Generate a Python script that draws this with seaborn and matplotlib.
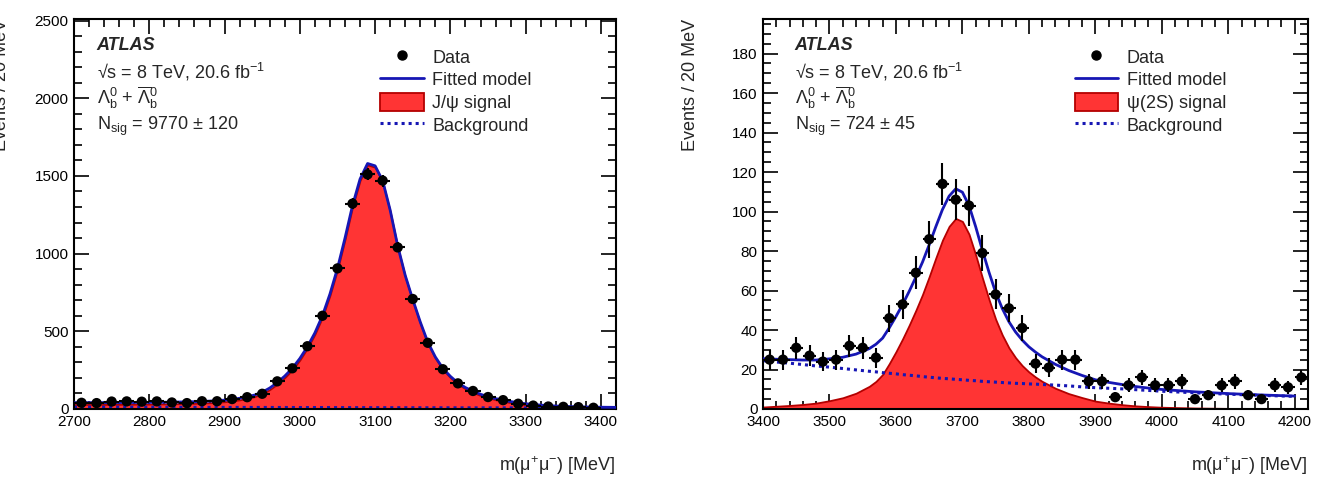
import numpy as np
import pandas as pd
import matplotlib
matplotlib.use("Agg")
import matplotlib.pyplot as plt
import seaborn as sns
from matplotlib.ticker import MultipleLocator
from matplotlib.lines import Line2D
from matplotlib.patches import Patch

# ---------------- data: J/psi panel ----------------
jpsi_mass = [2710, 2730, 2750, 2770, 2790, 2810, 2830, 2850, 2870, 2890,
             2910, 2930, 2950, 2970, 2990, 3010, 3030, 3050, 3070, 3090,
             3110, 3130, 3150, 3170, 3190, 3210, 3230, 3250, 3270, 3290,
             3310, 3330, 3350, 3370, 3390]
jpsi_counts = [40, 38, 48, 49, 47, 49, 42, 38, 50, 50,
               64, 76, 98, 178, 262, 404, 600, 905, 1322, 1510,
               1470, 1040, 708, 426, 256, 165, 116, 77, 57, 34,
               22, 16, 14, 12, 8]
jpsi_err = [6.3, 6.2, 6.9, 7.0, 6.9, 7.0, 6.5, 6.2, 7.1, 7.1,
            8.0, 8.7, 9.9, 13.3, 16.2, 20.1, 24.5, 30.1, 36.4, 38.9,
            38.3, 32.2, 26.6, 20.6, 16.0, 12.8, 10.8, 8.8, 7.5, 5.8,
            4.7, 4.0, 3.7, 3.5, 2.8]

jpsi_curve_x = [2700, 2720, 2740, 2760, 2780, 2800, 2820, 2840, 2860, 2880,
                2900, 2910, 2920, 2930, 2940, 2950, 2960, 2970, 2980, 2990,
                3000, 3010, 3020, 3030, 3040, 3050, 3060, 3070, 3080, 3090,
                3100, 3110, 3120, 3130, 3140, 3150, 3160, 3170, 3180, 3190,
                3200, 3210, 3220, 3230, 3240, 3250, 3260, 3270, 3280, 3290,
                3300, 3320, 3340, 3360, 3380, 3400, 3420]
jpsi_model = [41, 41, 41, 41.5, 42, 42.5, 43.5, 45, 47, 50.5,
              57, 62, 69, 78, 90, 108, 135, 170, 212, 262,
              325, 400, 490, 600, 740, 905, 1100, 1310, 1480, 1580,
              1565, 1470, 1280, 1050, 860, 705, 560, 430, 335, 262,
              210, 168, 138, 115, 95, 79, 67, 57, 48, 40,
              34, 25, 19, 15.5, 13, 11.5, 10.5]
jpsi_signal = [29, 29.2, 29.3, 30, 30.7, 31.3, 32.5, 34.2, 36.3, 40,
               46.7, 51.7, 58.8, 67.9, 80, 98, 125, 160, 202, 252,
               315, 391, 481, 591, 731, 896, 1091, 1301, 1471, 1571,
               1556, 1461, 1271, 1042, 852, 697, 552, 422, 327, 254,
               202, 160, 130, 107, 87, 72, 60, 50, 41, 33,
               27, 18, 12.3, 9, 6.7, 5.3, 4.5]
jpsi_bkg_x = [2700, 3060, 3420]
jpsi_bkg = [12, 9, 6]

# ---------------- data: psi(2S) panel ----------------
psi_mass = [3410, 3430, 3450, 3470, 3490, 3510, 3530, 3550, 3570, 3590,
            3610, 3630, 3650, 3670, 3690, 3710, 3730, 3750, 3770, 3790,
            3810, 3830, 3850, 3870, 3890, 3910, 3930, 3950, 3970, 3990,
            4010, 4030, 4050, 4070, 4090, 4110, 4130, 4150, 4170, 4190, 4210]
psi_counts = [25, 25, 31, 27, 24, 25, 32, 31, 26, 46,
              53, 69, 86, 114, 106, 103, 79, 58, 51, 41,
              23, 21, 25, 25, 14, 14, 6, 12, 16, 12,
              12, 14, 5, 7, 12, 14, 7, 5, 12, 11, 16]
psi_err = [5.0, 5.0, 5.6, 5.2, 4.9, 5.0, 5.7, 5.6, 5.1, 6.8,
           7.3, 8.3, 9.3, 10.7, 10.3, 10.1, 8.9, 7.6, 7.1, 6.4,
           4.8, 4.6, 5.0, 5.0, 3.7, 3.7, 2.4, 3.5, 4.0, 3.5,
           3.5, 3.7, 2.2, 2.6, 3.5, 3.7, 2.6, 2.2, 3.5, 3.3, 4.0]

psi_curve_x = [3400, 3420, 3440, 3460, 3480, 3500, 3520, 3540, 3560,
               3570, 3580, 3590, 3600, 3610, 3620, 3630, 3640, 3650, 3660,
               3670, 3680, 3690, 3700, 3710, 3720, 3730, 3740, 3750, 3760,
               3770, 3780, 3790, 3800, 3810,
               3820, 3840, 3860, 3880, 3900, 3920, 3940, 3960, 3980, 4000,
               4050, 4100, 4150, 4200]
psi_bkg = [24.5, 23.8, 23.2, 22.5, 21.8, 21.2, 20.5, 19.8, 19.1,
           18.8, 18.4, 18.1, 17.8, 17.4, 17.1, 16.8, 16.4, 16.1, 15.8,
           15.5, 15.3, 15.0, 14.8, 14.5, 14.3, 14.0, 13.8, 13.6, 13.4,
           13.2, 13.0, 12.9, 12.7, 12.6,
           12.4, 12.1, 11.7, 11.2, 10.8, 10.5, 10.2, 9.8, 9.4, 9.0,
           8.2, 7.5, 6.9, 6.4]
psi_signal = [1.0, 1.4, 1.8, 2.3, 3.0, 4.2, 5.7, 8.0, 11.5,
              14.0, 17.5, 23.0, 29.0, 35.5, 42.5, 50.0, 58.0, 67.0, 76.5,
              85.5, 92.5, 96.5, 95.0, 88.5, 78.0, 66.5, 55.5, 45.5, 37.5,
              31.0, 26.0, 22.0, 18.8, 16.2,
              14.0, 10.5, 7.8, 5.8, 4.0, 3.0, 2.2, 1.6, 1.2, 0.9,
              0.5, 0.3, 0.2, 0.15]
psi_model = [25.5, 25.2, 25.0, 24.8, 24.8, 25.4, 26.2, 27.8, 30.6,
             32.8, 35.9, 41.1, 46.8, 52.9, 59.6, 66.8, 74.4, 83.1, 92.3,
             101.0, 107.8, 111.5, 109.8, 103.0, 92.3, 80.5, 69.3, 59.1, 50.9,
             44.2, 39.0, 34.9, 31.5, 28.8,
             26.4, 22.6, 19.5, 17.0, 14.8, 13.5, 12.4, 11.4, 10.6, 9.9,
             8.7, 7.8, 7.1, 6.55]

# ---------------- style ----------------
sns.set_theme(style="ticks")
plt.rcParams["font.family"] = ["Liberation Sans", "DejaVu Sans"]
plt.rcParams["mathtext.fontset"] = "custom"
plt.rcParams["mathtext.rm"] = "Liberation Sans"
plt.rcParams["mathtext.it"] = "Liberation Sans:italic"
plt.rcParams["mathtext.bf"] = "Liberation Sans:bold"

BLUE = "#1616b4"
RED = "#ff3434"
RED_EDGE = "#b40000"
TXT = 13
TICK = 11

fig = plt.figure(figsize=(13.2, 4.8), dpi=100)
axL = fig.add_axes([74 / 1320, 71 / 480, 542 / 1320, 390 / 480])
axR = fig.add_axes([763 / 1320, 71 / 480, 545 / 1320, 390 / 480])


def draw(ax, cx, model, signal, bx, bkg, mx, counts, err, xlim, ylim,
         ymaj, ymin, sig_label, nsig, text_x, leg_x):
    ax.fill_between(cx, 0, signal, facecolor=RED, edgecolor=RED_EDGE,
                    linewidth=1.3, zorder=1)
    sns.lineplot(x=bx, y=bkg, ax=ax, color=BLUE, linewidth=2.2,
                 linestyle=(0, (1.0, 1.3)), estimator=None, sort=False, zorder=2)
    sns.lineplot(x=cx, y=model, ax=ax, color=BLUE, linewidth=2.0,
                 estimator=None, sort=False, zorder=3)
    ax.errorbar(mx, counts, yerr=err, xerr=10, fmt="none", ecolor="black",
                elinewidth=1.5, capsize=0, zorder=4)
    sns.scatterplot(x=mx, y=counts, ax=ax, color="black", s=55,
                    edgecolor="none", zorder=5)
    ax.set_xlim(*xlim)
    ax.set_ylim(*ylim)
    ax.xaxis.set_major_locator(MultipleLocator(100))
    ax.xaxis.set_minor_locator(MultipleLocator(20))
    ax.yaxis.set_major_locator(MultipleLocator(ymaj))
    ax.yaxis.set_minor_locator(MultipleLocator(ymin))
    ax.tick_params(which="both", direction="in", top=True, right=True,
                   width=1.2, colors="black", labelsize=TICK)
    ax.tick_params(which="major", length=11, pad=4)
    ax.tick_params(which="minor", length=5.5)
    for s in ax.spines.values():
        s.set_linewidth(1.5)
        s.set_color("black")
    ax.set_xlabel(r"m($\mathregular{\mu^{+}\mu^{-}}$) [MeV]", fontsize=TXT,
                  loc="right")
    ax.xaxis.set_label_coords(1.0, -0.115)
    ax.set_ylabel("Events / 20 MeV", fontsize=TXT, loc="top")
    ax.yaxis.set_label_coords(-0.118, 1.0)

    tx = ax.transAxes
    ax.text(text_x, 0.933, "ATLAS", transform=tx, fontsize=TXT,
            fontweight="bold", fontstyle="italic", va="center")
    ax.text(text_x, 0.865, "√s = 8 TeV, 20.6 fb$^{-1}$", transform=tx,
            fontsize=TXT, va="center")
    ax.text(text_x, 0.797,
            r"$\mathregular{\Lambda_{b}^{0}}$ + $\mathregular{\overline{\Lambda}_{b}^{0}}$",
            transform=tx, fontsize=TXT, va="center")
    ax.text(text_x, 0.725, "N$_{\\mathregular{sig}}$ = " + nsig, transform=tx,
            fontsize=TXT, va="center")

    handles = [
        Line2D([], [], marker="o", color="black", linestyle="none", markersize=6.5),
        Line2D([], [], color=BLUE, linewidth=2.0),
        Patch(facecolor=RED, edgecolor=RED_EDGE, linewidth=1.3),
        Line2D([], [], color=BLUE, linewidth=2.2, linestyle=(0, (1.0, 1.3))),
    ]
    labels = ["Data", "Fitted model", sig_label, "Background"]
    ax.legend(handles, labels, loc="upper left", bbox_to_anchor=(leg_x, 0.927),
              frameon=False, fontsize=TXT, handlelength=2.4, handleheight=1.15,
              handletextpad=0.47, labelspacing=0.2, borderpad=0,
              borderaxespad=0)


draw(axL, jpsi_curve_x, jpsi_model, jpsi_signal, jpsi_bkg_x, jpsi_bkg,
     jpsi_mass, jpsi_counts, jpsi_err, (2700, 3420), (0, 2510), 500, 100,
     "J/ψ signal", "9770 ± 120", 0.042, 0.565)
draw(axR, psi_curve_x, psi_model, psi_signal, psi_curve_x, psi_bkg,
     psi_mass, psi_counts, psi_err, (3400, 4220), (0, 197.5), 20, 5,
     "ψ(2S) signal", "724 ± 45", 0.058, 0.572)

fig.savefig("out.png", dpi=100)
